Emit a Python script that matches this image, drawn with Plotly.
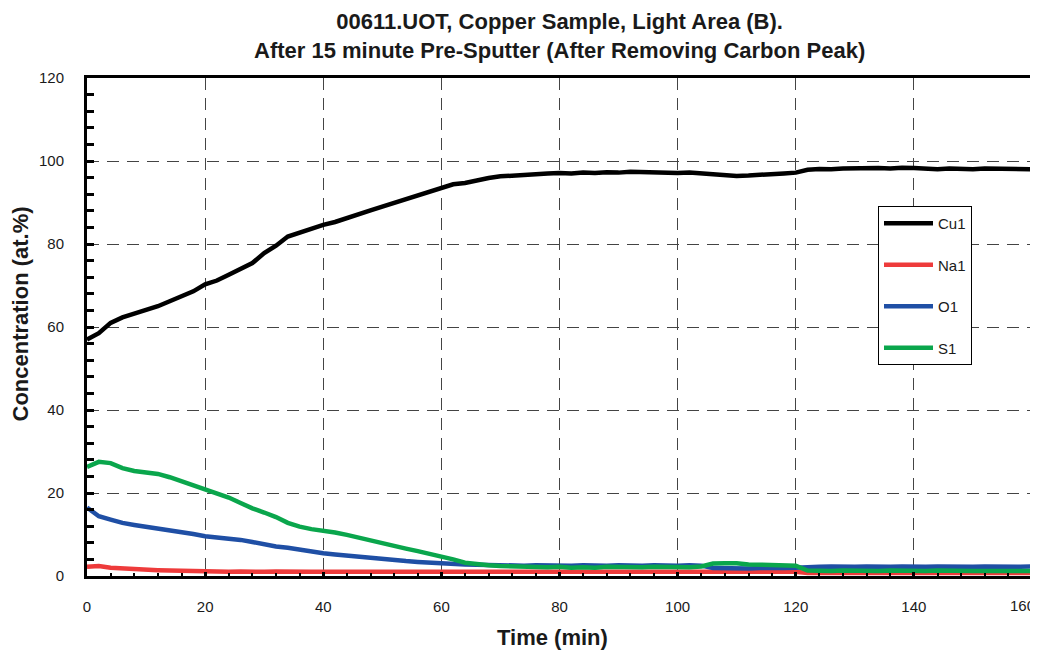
import plotly.graph_objects as go

time_min = list(range(0, 162, 2))

cu1 = [57.0, 58.5, 61.0, 62.3, 63.2, 64.0, 65.0, 66.2, 67.3, 68.6,
       70.3, 71.2, 72.6, 74.0, 75.4, 77.8, 79.6, 81.8, 82.8, 83.8,
       84.6, 85.3, 86.3, 87.2, 88.1, 89.0, 89.9, 90.6, 91.6, 92.5,
       93.4, 94.4, 94.7, 95.4, 95.9, 96.3, 96.5, 96.7, 97.0, 97.0,
       97.1, 97.0, 97.2, 97.1, 97.3, 97.2, 97.4, 97.3, 97.2, 97.3,
       97.1, 97.2, 97.0, 96.8, 96.5, 96.4, 96.5, 96.6, 96.8, 97.0,
       97.2, 97.9, 98.1, 98.0, 98.2, 98.3, 98.2, 98.3, 98.2, 98.4,
       98.3, 98.2, 98.0, 98.2, 98.1, 98.0, 98.2, 98.1, 98.0, 98.1, 98.0]

na1 = [2.2, 2.4, 2.0, 1.8, 1.6, 1.5, 1.4, 1.3, 1.2, 1.2,
       1.1, 1.1, 1.0, 1.1, 1.0, 1.0, 1.1, 1.0, 1.0, 1.0,
       1.0, 1.0, 0.9, 1.0, 1.0, 1.0, 0.9, 1.0, 1.0, 1.0,
       1.0, 1.0, 0.9, 1.0, 1.0, 1.0, 1.0, 1.0, 1.0, 1.0,
       1.0, 1.0, 1.0, 1.0, 1.0, 1.0, 1.0, 1.0, 1.0, 1.0,
       1.0, 1.0, 1.0, 1.1, 1.0, 1.0, 1.0, 1.0, 1.0, 1.0,
       1.0, 0.7, 0.7, 0.7, 0.7, 0.7, 0.7, 0.7, 0.7, 0.7,
       0.7, 0.7, 0.7, 0.7, 0.7, 0.7, 0.8, 0.7, 0.7, 0.7, 0.7]

o1 = [16.5, 14.4, 13.6, 12.8, 12.3, 11.9, 11.5, 11.0, 10.5, 10.1,
      9.6, 9.3, 9.1, 8.7, 8.2, 7.6, 7.1, 6.8, 6.3, 5.9,
      5.5, 5.2, 4.9, 4.6, 4.3, 4.1, 3.9, 3.6, 3.4, 3.2,
      3.1, 2.9, 2.8, 2.7, 2.6, 2.5, 2.6, 2.5, 2.6, 2.5,
      2.6, 2.5, 2.6, 2.5, 2.5, 2.6, 2.5, 2.5, 2.6, 2.5,
      2.5, 2.6, 2.5, 1.9, 1.8, 1.8, 1.8, 1.9, 1.8, 1.9,
      2.0, 2.2, 2.2, 2.3, 2.2, 2.2, 2.3, 2.2, 2.2, 2.3,
      2.2, 2.2, 2.3, 2.2, 2.2, 2.2, 2.3, 2.2, 2.2, 2.2, 2.3]

s1 = [26.3, 27.5, 27.2, 26.0, 25.3, 25.0, 24.6, 23.8, 22.8, 21.8,
      20.7, 19.9, 18.9, 17.6, 16.3, 15.3, 14.2, 12.8, 11.9, 11.3,
      11.0, 10.5, 9.9, 9.2, 8.6, 7.8, 7.1, 6.6, 6.0, 5.4,
      4.8, 4.0, 3.2, 2.8, 2.6, 2.4, 2.3, 2.2, 2.2, 2.1,
      2.2, 2.0, 2.1, 2.0, 2.2, 2.1, 2.0, 2.1, 2.2, 2.1,
      2.2, 2.1, 2.3, 3.0, 3.1, 3.1, 2.8, 2.7, 2.6, 2.7,
      2.5, 1.3, 1.2, 1.2, 1.3, 1.2, 1.2, 1.2, 1.3, 1.2,
      1.2, 1.2, 1.3, 1.2, 1.2, 1.2, 1.2, 1.3, 1.2, 1.2, 1.2]

series_names = ["Cu1", "Na1", "O1", "S1"]
series_values = [cu1, na1, o1, s1]
series_colors = ["#000000", "#ee3b3b", "#1f4fa5", "#0aa64c"]

x_ticks = [0, 20, 40, 60, 80, 100, 120, 140, 160]
y_ticks = [0, 20, 40, 60, 80, 100, 120]

title_text = ("<b>00611.UOT, Copper Sample, Light Area (B).<br>"
              "After 15 minute Pre-Sputter (After Removing Carbon Peak)</b>")
x_title = "<b>Time (min)</b>"
y_title = "<b>Concentration (at.%)</b>"

fig = go.Figure()
for name, vals, col in zip(series_names, series_values, series_colors):
    fig.add_trace(go.Scatter(x=time_min, y=vals, mode="lines", name=name,
                             legendgroup=name,
                             line=dict(color=col, width=4.5)))

font_family = "Liberation Sans, Arial, sans-serif"
OFF = 8  # page body margin in the browser
FW, FH = 1038 - OFF, 651 - OFF
L, R, T, B = 87 - OFF, 1032 - OFF, 78 - OFF, 576 - OFF
W, H = R - L, B - T

# last x tick label would be clipped at the figure edge: draw it right-aligned instead
x_ticktext = [str(v) for v in x_ticks[:-1]] + [""]
last_label = str(x_ticks[-1])

fig.update_layout(
    width=FW, height=FH,
    margin=dict(l=L, r=FW - R, t=T, b=FH - B, autoexpand=False),
    paper_bgcolor="white", plot_bgcolor="white",
    font=dict(family=font_family, size=15, color="#1a1a1a"),
    legend=dict(x=(878 - OFF - L) / W, y=(B - (206 - OFF)) / H, xanchor="left", yanchor="top",
                bgcolor="white", bordercolor="#000", borderwidth=1,
                font=dict(family=font_family, size=15, color="#1a1a1a"),
                tracegroupgap=19, itemwidth=49),
    showlegend=True,
    annotations=[
        dict(text=title_text, xref="paper", yref="paper",
             x=0.5, y=(B - (35.5 - OFF)) / H, xanchor="center", yanchor="middle",
             showarrow=False, align="center",
             font=dict(family=font_family, size=22, color="#1a1a1a")),
        dict(text=x_title, xref="paper", yref="paper",
             x=(552 - OFF - L) / W, y=(B - (637 - OFF)) / H, xanchor="center", yanchor="middle",
             showarrow=False, font=dict(family=font_family, size=22, color="#1a1a1a")),
        dict(text=y_title, xref="paper", yref="paper", textangle=-90,
             x=(20 - OFF - L) / W, y=(B - (314.5 - OFF)) / H, xanchor="center", yanchor="middle",
             showarrow=False, font=dict(family=font_family, size=22, color="#1a1a1a")),
        dict(text=last_label, xref="paper", yref="paper",
             x=(FW - 1 - L) / W, y=(B - (605 - OFF)) / H, xanchor="right", yanchor="middle",
             showarrow=False, xshift=0,
             font=dict(family=font_family, size=15, color="#1a1a1a")),
    ],
)

fig.update_xaxes(
    range=[0, 160], tickvals=x_ticks, ticktext=x_ticktext,
    automargin=False,
    showline=True, linecolor="#000", linewidth=3, mirror=True,
    showgrid=True, gridcolor="#444", gridwidth=1, griddash="12px,8px",
    ticks="inside", ticklen=4, tickwidth=3, tickcolor="#000",
    minor=dict(dtick=4, ticks="inside", ticklen=3, tickwidth=2, tickcolor="#000", showgrid=False),
    ticklabelstandoff=15,
    zeroline=False,
)
fig.update_yaxes(
    range=[0, 120], tickvals=y_ticks, ticktext=[str(v) for v in y_ticks],
    automargin=False, ticklabeloverflow="allow",
    showline=True, linecolor="#000", linewidth=3, mirror=True,
    showgrid=True, gridcolor="#444", gridwidth=1, griddash="12px,8px",
    ticks="inside", ticklen=7, tickwidth=3, tickcolor="#000",
    minor=dict(dtick=4, ticks="inside", ticklen=7, tickwidth=3, tickcolor="#000", showgrid=False),
    ticklabelstandoff=17,
    zeroline=False,
)

fig.write_html("out.html")
